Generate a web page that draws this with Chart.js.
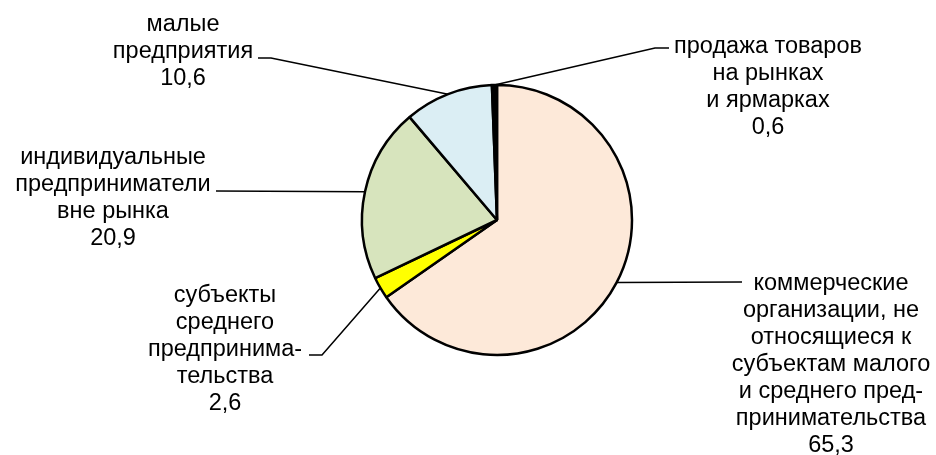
<!DOCTYPE html>
<html>
<head>
<meta charset="utf-8">
<script src="https://cdn.jsdelivr.net/npm/chart.js"></script>
<style>
  body { margin: 0; background: #fff; }
  #wrap { width: 936px; height: 455px; }
</style>
</head>
<body>
<div id="wrap"><canvas id="pie" width="936" height="455"></canvas></div>
<script>
// categories (split into lines as in the source) and their shares, %
const categories = [
    ['коммерческие', 'организации, не', 'относящиеся к', 'субъектам малого', 'и среднего пред-', 'принимательства'],
    ['субъекты', 'среднего', 'предпринима-', 'тельства'],
    ['индивидуальные', 'предприниматели', 'вне рынка'],
    ['малые', 'предприятия'],
    ['продажа товаров', 'на рынках', 'и ярмарках']
];
const shares = [65.3, 2.6, 20.9, 10.6, 0.6];
const colors = ['#FDE9D9', '#FFFF00', '#D7E4BD', '#DBEEF4', '#000000'];

// where each label sits and how its leader line bends (layout only)
const labelPos = [
    { cx: 831, top: 284, path: [[742, 282]] },
    { cx: 225, top: 296, path: [[322, 355], [309, 355]] },
    { cx: 113, top: 158, path: [[216, 191]] },
    { cx: 183, top: 25, path: [[271, 58], [258, 58]] },
    { cx: 768, top: 47, path: [[655, 48], [669, 48]] }
];
const lineH = 27;

const fmt = v => v.toFixed(1).replace('.', ',');

const leaderLabels = {
    id: 'leaderLabels',
    afterDatasetsDraw(chart) {
        const ctx = chart.ctx;
        const arcs = chart.getDatasetMeta(0).data;
        ctx.save();
        ctx.strokeStyle = '#000';
        ctx.lineWidth = 1.5;
        arcs.forEach((arc, i) => {
            const p = arc.getProps(['x', 'y', 'startAngle', 'endAngle', 'outerRadius'], true);
            const mid = (p.startAngle + p.endAngle) / 2;
            const ex = p.x + Math.cos(mid) * p.outerRadius;
            const ey = p.y + Math.sin(mid) * p.outerRadius;
            ctx.beginPath();
            ctx.moveTo(ex, ey);
            labelPos[i].path.forEach(pt => ctx.lineTo(pt[0], pt[1]));
            ctx.stroke();
        });
        ctx.fillStyle = '#000';
        ctx.font = '23.5px "Liberation Sans", Arial, sans-serif';
        ctx.textAlign = 'center';
        ctx.textBaseline = 'middle';
        categories.forEach((lines, i) => {
            const pos = labelPos[i];
            const all = lines.concat([fmt(shares[i])]);
            all.forEach((t, k) => ctx.fillText(t, pos.cx, pos.top + k * lineH));
        });
        ctx.restore();
    }
};

new Chart(document.getElementById('pie'), {
    type: 'pie',
    data: {
        labels: categories.map(l => l.join(' ')),
        datasets: [{
            data: shares,
            backgroundColor: colors,
            borderColor: '#000',
            borderWidth: 2.5
        }]
    },
    options: {
        responsive: false,
        animation: false,
        radius: 135,
        layout: { padding: { left: 357, top: 80, right: 299, bottom: 95 } },
        plugins: {
            legend: { display: false },
            tooltip: { enabled: false }
        }
    },
    plugins: [leaderLabels]
});
</script>
</body>
</html>
